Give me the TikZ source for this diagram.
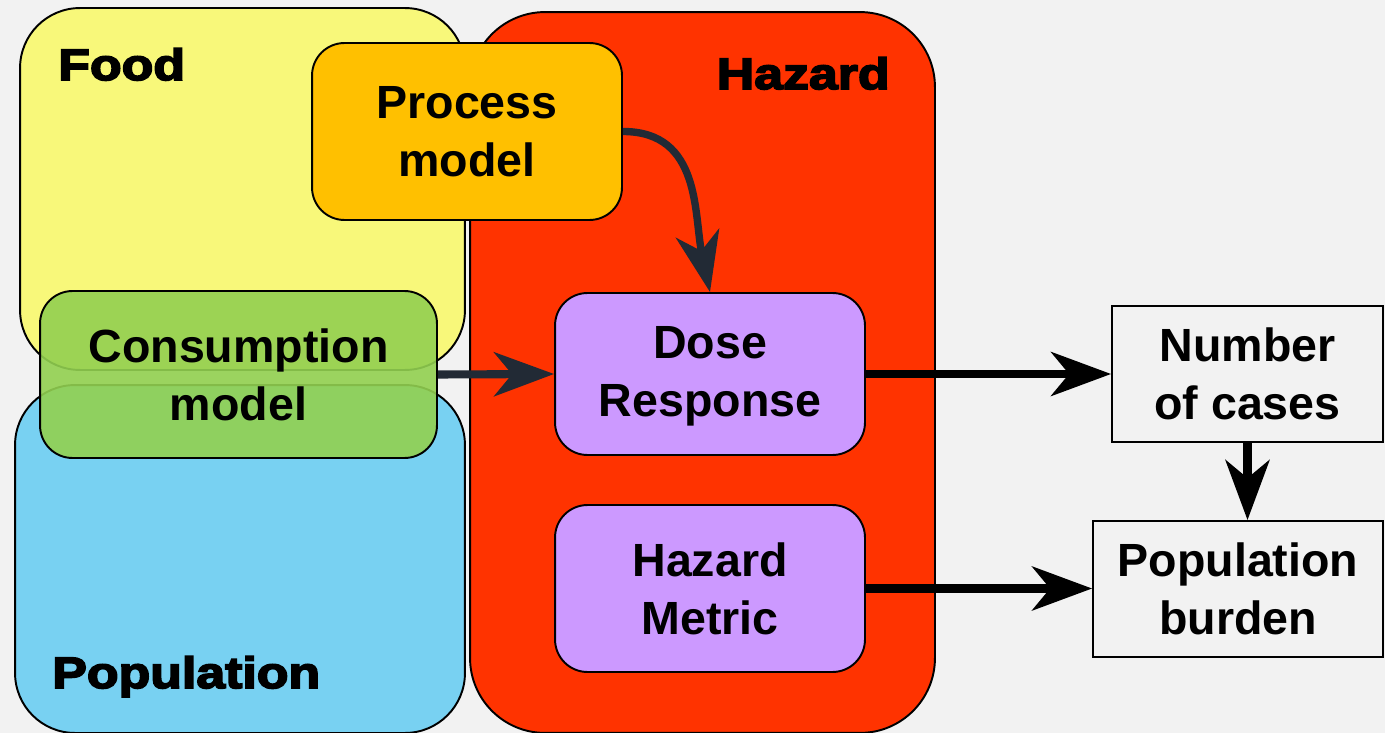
\documentclass[tikz,border=0pt]{standalone}
\usepackage{fontspec}
\setmainfont{Liberation Sans}
\newfontfamily\heavyfont[FakeBold=4,FakeStretch=1.18]{Liberation Sans Bold}
\usetikzlibrary{positioning,arrows.meta}
\definecolor{bggray}{HTML}{F2F2F2}
\definecolor{foodyellow}{HTML}{F8F87A}
\definecolor{popblue}{HTML}{78D1F2}
\definecolor{hazred}{HTML}{FF3300}
\definecolor{procorange}{HTML}{FFC000}
\definecolor{consgreen}{HTML}{92D050}
\definecolor{dosepurple}{HTML}{CC99FF}
\definecolor{darkslate}{HTML}{222A35}

\tikzset{
  area/.style={draw=black, line width=1.1pt, rounded corners=1.2cm, inner sep=0pt},
  model/.style={draw=black, line width=1.1pt, rounded corners=0.65cm, inner sep=0pt,
    align=center, font=\fontsize{26.5}{33}\selectfont\bfseries},
  outcome/.style={draw=black, line width=1.1pt, fill=bggray, inner sep=0pt,
    align=center, font=\fontsize{26.5}{33}\selectfont\bfseries},
  arealabel/.style={inner sep=0pt, font=\fontsize{25}{30}\selectfont\heavyfont},
  flow/.style={line width=4.6pt, -{Stealth[length=1.2cm,width=0.88cm,inset=0.36cm]}},
}

\begin{document}
\begin{tikzpicture}[x=0.02cm,y=-0.02cm]

% page
\fill [bggray] (0,0) rectangle (1385,733);
\useasboundingbox (0,0) rectangle (1385,733);
% big areas
\node [area, fill=foodyellow, minimum width=8.9cm, minimum height=7.24cm] (food) at (242.5,189) {};
\node [area, fill=popblue, minimum width=9cm, minimum height=6.96cm] (pop) at (240,559) {};
\node [area, fill=hazred, rounded corners=1.5cm, minimum width=9.3cm, minimum height=14.42cm] (hazard) at (702.5,372.5) {};
\node [arealabel, anchor=base west] (foodlbl) at (58,80) {Food};
\node [arealabel, anchor=base east] (hazlbl) at (890,89) {Hazard};
\node [arealabel, anchor=base west] (poplbl) at (52,688) {Population};
% models
\node [model, fill=procorange, minimum width=6.2cm, minimum height=3.54cm] (process) at (467,131.5) {Process\\model};
\node [model, fill=consgreen, fill opacity=0.9, text opacity=1, minimum width=7.94cm, minimum height=3.34cm] (consumption) at (238.5,374.5) {Consumption\\model};
\node [model, fill=dosepurple, minimum width=6.2cm, minimum height=3.24cm, text depth=0.12cm] (dose) at (710,374) {Dose\\Response};
\node [model, fill=dosepurple, minimum width=6.2cm, minimum height=3.34cm] (metric) at (710,588.5) {Hazard\\Metric};
% outcomes
\node [outcome, minimum width=5.42cm, minimum height=2.72cm] (cases) at (1247.5,374) {Number\\of cases};
\node [outcome, minimum width=5.8cm, minimum height=2.72cm] (burden) at (1238,589) {Population\\burden};
% arrows
\draw [flow, darkslate, line width=4.2pt] (process.east) to [out=0, in=102, looseness=1.1] (dose.north);
\draw [flow, darkslate] (consumption.east) -- (dose.west);
\draw [flow] (dose.east) -- (cases.west);
\draw [flow] (metric.east) -- (burden.west |- metric.east);
\draw [flow] (cases.south) -- (cases.south |- burden.north);

\end{tikzpicture}
\end{document}
